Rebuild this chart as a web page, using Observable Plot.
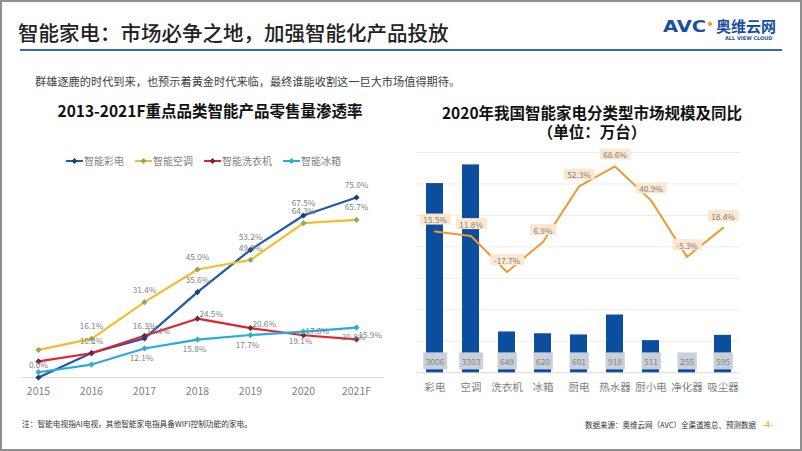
<!DOCTYPE html>
<html><head><meta charset="utf-8">
<script src="https://cdn.jsdelivr.net/npm/d3@7"></script>
<script src="https://cdn.jsdelivr.net/npm/@observablehq/plot@0.6"></script>
<style>
body{margin:0;background:#fff;}
#page{position:relative;width:802px;height:451px;overflow:hidden;background:#fff;font-family:"Noto Sans CJK SC","Noto Sans",sans-serif;}
.abs{position:absolute;white-space:nowrap;}
.frame{position:absolute;left:0;top:0;width:802px;height:451px;box-sizing:border-box;border:2px solid #8f8f8f;pointer-events:none;}
</style></head><body>
<div id="page">
  <div class="abs" style="left:18px;top:21px;font-size:20.5px;line-height:22px;color:#222;font-weight:500;">智能家电：市场必争之地，加强智能化产品投放</div>
  <div class="abs" style="left:20px;top:49px;width:762px;height:2px;background:#2f6db5;"></div>
  <div class="abs" style="left:663px;top:19px;font-size:15px;line-height:16px;font-weight:bold;color:#1b4fa0;transform:scaleX(1.3);transform-origin:0 0;font-family:'DejaVu Sans',sans-serif;">AVC</div>
  <div class="abs" style="left:708px;top:22px;width:4px;height:4px;border-radius:2px;background:#f39a1e;"></div>
  <div class="abs" style="left:716px;top:18px;font-size:15px;line-height:15px;font-weight:bold;color:#1b4fa0;">奥维云网</div>
  <div class="abs" style="left:725px;top:36px;font-size:5px;line-height:5px;font-weight:bold;color:#1b4fa0;font-family:'DejaVu Sans',sans-serif;">ALL VIEW CLOUD</div>

  <div class="abs" style="left:35px;top:75px;font-size:11.2px;line-height:12px;color:#404040;">群雄逐鹿的时代到来，也预示着黄金时代来临，最终谁能收割这一巨大市场值得期待。</div>

  <div class="abs" style="left:0px;width:420px;top:101px;text-align:center;font-size:15.5px;line-height:18px;font-weight:bold;color:#111;">2013-2021F重点品类智能产品零售量渗透率</div>
  <div class="abs" style="left:392px;width:400px;top:103px;text-align:center;font-size:15.5px;line-height:19px;font-weight:bold;color:#111;">2020年我国智能家电分类型市场规模及同比<br>（单位：万台）</div>

  <div id="legend" class="abs" style="left:66px;top:155px;display:flex;gap:11px;align-items:center;"></div>
  <div id="left" class="abs" style="left:0px;top:140px;width:400px;height:270px;"></div>
  <div id="right" class="abs" style="left:395px;top:140px;width:400px;height:270px;"></div>

  <div class="abs" style="left:22px;top:419px;font-size:7.7px;line-height:9px;color:#333;">注：智能电视指AI电视，其他智能家电指具备WIFI控制功能的家电。</div>
  <div class="abs" style="left:585px;top:420px;font-size:7.5px;line-height:9px;color:#333;">数据来源：奥维云网（AVC）全渠道推总、预测数据</div>
  <div class="abs" style="left:762px;top:419px;font-size:9px;line-height:11px;color:#f5a030;">-4-</div>
  <div class="frame"></div>
</div>
<script>
// ---- left chart data ----
const years = ["2015","2016","2017","2018","2019","2020","2021F"];
const seriesNames = ["智能彩电","智能空调","智能洗衣机","智能冰箱"];
const tvValues     = [0.0, 10.2, 16.3, 35.6, 53.2, 67.5, 75.0];
const acValues     = [11.5, 16.1, 31.4, 45.0, 49.0, 64.3, 65.7];
const washerValues = [6.7, 10.1, 17.4, 24.5, 20.6, 17.6, 15.9];
const fridgeValues = [2.2, 5.4, 12.1, 15.8, 17.7, 19.1, 20.8];
const tvLabels     = ["0.0%","10.2%","16.3%","35.6%","53.2%","67.5%","75.0%"];
const acLabels     = [null,"16.1%","31.4%","45.0%","49.0%","64.3%","65.7%"];
const washerLabels = [null,null,"17.4%","24.5%","20.6%","17.6%","15.9%"];
const fridgeLabels = [null,null,"12.1%","15.8%","17.7%","19.1%","20.8%"];

// ---- right chart data ----
const categories = ["彩电","空调","洗衣机","冰箱","厨电","热水器","厨小电","净化器","吸尘器"];
const sales  = [3006, 3303, 649, 620, 601, 918, 511, 255, 595];
const growth = [15.5, 11.8, -17.7, 6.9, 52.3, 68.6, 40.9, -5.3, 18.4];
const salesTicks = [500, 1000, 1500, 2000, 2500, 3000, 3500];

const FONT = '"Noto Sans CJK SC","Noto Sans",sans-serif';
const styles = [
  {line:"#1f5aa8", marker:"#173f7c", anchor:"middle", dx:0, dy:-12},
  {line:"#f4bd2a", marker:"#8fab5c", anchor:"middle", dx:0, dy:-12},
  {line:"#e2232b", marker:"#6d2746", anchor:"start", dx:2, dy:-4},
  {line:"#27aae1", marker:"#2cb4b0", anchor:"middle", dx:-3, dy:10}
];
const valueSets = [tvValues, acValues, washerValues, fridgeValues];
const labelSets = [tvLabels, acLabels, washerLabels, fridgeLabels];

// legend
const legend = document.getElementById("legend");
seriesNames.forEach((n, k) => {
  const item = document.createElement("div");
  item.style.cssText = "display:flex;align-items:center;gap:1px;";
  item.innerHTML = `<svg width="17" height="8"><line x1="0" y1="4" x2="17" y2="4" stroke="${styles[k].line}" stroke-width="2"/><path d="M8.5 1 L11.5 4 L8.5 7 L5.5 4Z" fill="${styles[k].marker}"/></svg><span style="font-size:10px;line-height:12px;color:#7f7f7f;">${n}</span>`;
  legend.appendChild(item);
});

const leftMarks = [Plot.ruleY([0], {stroke:"#d9d9d9", strokeWidth:1, insetLeft:-15, insetRight:-27})];
const rowsBySeries = valueSets.map((vals, k) => years.map((y, i) => ({year:y, value:vals[i], label:labelSets[k][i]})));
rowsBySeries.forEach((rows, k) => {
  leftMarks.push(Plot.line(rows, {x:"year", y:"value", stroke:styles[k].line, strokeWidth:2.2}));
  leftMarks.push(Plot.dot(rows, {x:"year", y:"value", symbol:"diamond2", r:2.8, fill:styles[k].marker}));
});
rowsBySeries.forEach((rows, k) => {
  leftMarks.push(Plot.text(rows.filter(d => d.label), {x:"year", y:"value", text:"label", fill:"#7f7f7f", fontSize:8.2, textAnchor:styles[k].anchor, dx:styles[k].dx, dy:styles[k].dy}));
});
const hasAxis = typeof Plot.axisX === "function";
if (hasAxis) leftMarks.push(Plot.axisX({tickSize:0, tickPadding:10, fontSize:10.5, color:"#7f7f7f", label:null}));
else leftMarks.push(Plot.text(years, {x:d=>d, text:d=>d, frameAnchor:"bottom", dy:15, fontSize:10.5, fill:"#7f7f7f"}));

const left = Plot.plot({
  width:400, height:270, marginLeft:37, marginRight:43, marginTop:57, marginBottom:33,
  x:{type:"point", domain:years, padding:0, ...(hasAxis ? {} : {axis:null})},
  y:{domain:[0,75], axis:null},
  style:{fontFamily:FONT, background:"transparent", overflow:"visible"},
  marks:leftMarks
});
document.getElementById("left").appendChild(left);

// right chart - bars
const rows2 = categories.map((c, i) => ({cat:c, sales:sales[i], growth:growth[i]}));
const xOpt = {type:"band", domain:categories, paddingInner:0.53, paddingOuter:0.265};
const barMarks = [
  Plot.ruleY(salesTicks, {stroke:"#ececec", strokeWidth:1}),
  Plot.ruleY([0], {stroke:"#d9d9d9", strokeWidth:1}),
  Plot.barY(rows2, {x:"cat", y:"sales", fill:"#0c4e9e"}),
  Plot.text(rows2, {x:"cat", y:() => 0, text:d => String(d.sales), fill:"#7d828b", fontSize:8.4, dy:-10.6})
];
if (hasAxis) barMarks.push(Plot.axisX({tickSize:0, tickPadding:11, fontSize:10.5, color:"#7f7f7f", label:null}));
else barMarks.push(Plot.text(categories, {x:d=>d, text:d=>d, frameAnchor:"bottom", dy:16, fontSize:10.5, fill:"#7f7f7f"}));
const bars = Plot.plot({
  width:400, height:270, marginLeft:21, marginRight:55, marginTop:12, marginBottom:37.7,
  x:{...xOpt, ...(hasAxis ? {} : {axis:null})},
  y:{domain:[0,3500], axis:null},
  style:{fontFamily:FONT, background:"transparent", overflow:"visible"},
  marks:barMarks
});
bars.style.position = "absolute"; bars.style.left = "0px"; bars.style.top = "0px";
document.getElementById("right").appendChild(bars);

// right chart - growth line on secondary scale
const lineChart = Plot.plot({
  width:400, height:270, marginLeft:21, marginRight:55, marginTop:12, marginBottom:37.7,
  x:{...xOpt, axis:null},
  y:{domain:[-100,80], axis:null},
  style:{fontFamily:FONT, background:"transparent", overflow:"visible"},
  marks:[
    Plot.line(rows2, {x:"cat", y:"growth", stroke:"#ee9a30", strokeWidth:2}),
    Plot.text(rows2, {x:"cat", y:"growth", text:d => d.growth.toFixed(1) + "%", fill:"#7f7f7f", fontSize:8.2, dy:-11})
  ]
});
lineChart.style.position = "absolute"; lineChart.style.left = "0px"; lineChart.style.top = "0px";
document.getElementById("right").appendChild(lineChart);

function addBoxes(svg, fill, padX, h) {
  svg.querySelectorAll('g[aria-label="text"] text').forEach(t => {
    const b = t.getBBox();
    const r = document.createElementNS("http://www.w3.org/2000/svg", "rect");
    r.setAttribute("x", b.x - padX);
    r.setAttribute("y", b.y + b.height / 2 - h / 2);
    r.setAttribute("width", b.width + 2 * padX);
    r.setAttribute("height", h);
    r.setAttribute("fill", fill);
    const tr = t.getAttribute("transform");
    if (tr) r.setAttribute("transform", tr);
    t.parentNode.insertBefore(r, t);
  });
}
addBoxes(bars, "#cbd0d8", 2.5, 17);
addBoxes(lineChart, "#fde7cf", 3.5, 11);
</script>
</body></html>
